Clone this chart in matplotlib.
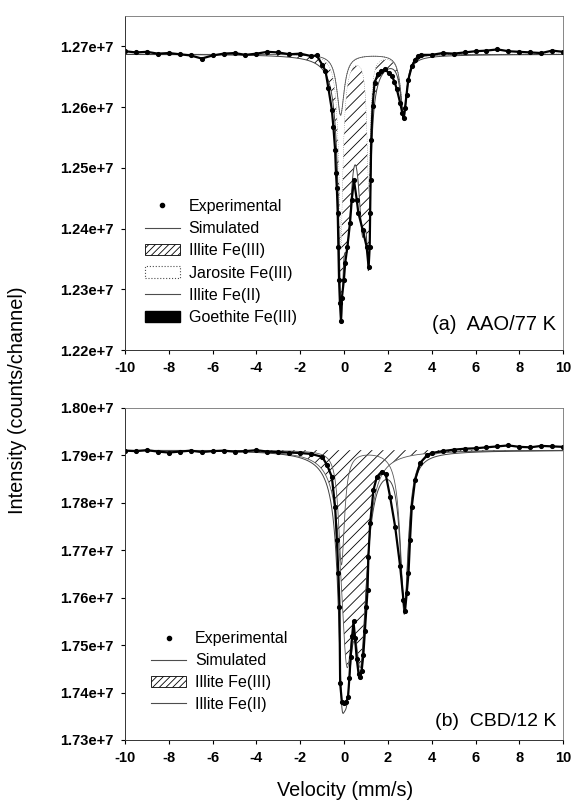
import matplotlib
matplotlib.use('Agg')
import numpy as np
import matplotlib.pyplot as plt
from matplotlib.patches import Patch
from matplotlib.lines import Line2D

plt.rcParams['font.family'] = ['Liberation Sans', 'DejaVu Sans']
plt.rcParams['hatch.linewidth'] = 0.6

# (a) AAO / 77 K  -- experimental points (velocity mm/s, intensity in 1e7 counts)
vel_a = [-10, -9.5, -9, -8.5, -8, -7.5, -7, -6.5, -6, -5.5, -5, -4.5, -4, -3.5, -3, -2.5, -2, -1.5,
         -1.25, -1.0, -0.85, -0.72, -0.56, -0.49, -0.41, -0.37, -0.33, -0.29, -0.26, -0.23, -0.19, -0.14,
         -0.10, -0.01, 0.05, 0.15, 0.27, 0.35, 0.45,
         0.58, 0.65, 0.85, 1.03, 1.12,
         1.17, 1.19, 1.21, 1.24, 1.30, 1.39,
         1.55, 1.70, 1.87, 2.05, 2.18, 2.30, 2.41, 2.56, 2.66, 2.72,
         2.78, 2.85, 2.93, 3.09, 3.24, 3.39, 3.5,
         4, 4.5, 5, 5.5, 6, 6.5, 7, 7.5, 8, 8.5, 9, 9.5, 10]
int_a = [1.2692, 1.2690, 1.2691, 1.2688, 1.2689, 1.2687, 1.2685, 1.2680, 1.2685, 1.2688, 1.2689, 1.2686,
         1.2688, 1.2691, 1.2690, 1.2687, 1.2688, 1.2684,
         1.2685, 1.2670, 1.2660, 1.2632, 1.2596, 1.2568, 1.2530, 1.2492, 1.2466, 1.2426, 1.2370, 1.2316,
         1.2278, 1.2247,
         1.2286, 1.2315, 1.2343, 1.2370, 1.2409, 1.2447, 1.2480,
         1.2447, 1.2426, 1.2398, 1.2370, 1.2336,
         1.2370, 1.2426, 1.2480, 1.2546, 1.2601, 1.2640,
         1.2655, 1.2659, 1.2662, 1.2656, 1.2651, 1.2642, 1.2629, 1.2607, 1.2590, 1.2582,
         1.2598, 1.2620, 1.2645, 1.2667, 1.2678, 1.2684, 1.2686,
         1.2686, 1.2689, 1.2688, 1.2690, 1.2692, 1.2693, 1.2695, 1.2692, 1.2691, 1.2690, 1.2689, 1.2693, 1.2691]

# fitted sites: line positions (mm/s), line depths (1e4 counts), half widths (mm/s)
base_a = 1.2687e7
fe2_a_pos, fe2_a_depth, fe2_a_hw = [-0.16, 2.72], [10, 10], [0.20, 0.17]
jar_a_pos, jar_a_depth, jar_a_hw = [-0.14, 1.12], [22.3, 22.3], [0.10, 0.10]
fe3_a_pos, fe3_a_depth, fe3_a_hw = [0.15, 0.85], [24, 24], [0.25, 0.25]

# (b) CBD / 12 K
vel_b = [-10, -9.5, -9, -8.5, -8, -7.5, -7, -6.5, -6, -5.5, -5, -4.5, -4, -3.5, -3, -2.5, -2, -1.5,
         -1.0, -0.78, -0.56, -0.41, -0.33, -0.26, -0.21, -0.18,
         -0.1, 0.0, 0.1, 0.18, 0.24, 0.3, 0.37, 0.43, 0.5, 0.58, 0.66, 0.73, 0.8, 0.88, 0.95, 1.02, 1.07,
         1.11, 1.19, 1.34, 1.5, 1.72, 1.9, 2.1, 2.33, 2.56, 2.71, 2.78,
         2.86, 2.94, 3.01, 3.09, 3.24, 3.47, 3.78, 4,
         4.5, 5, 5.5, 6, 6.5, 7, 7.5, 8, 8.5, 9, 9.5, 10]
int_b = [1.7910, 1.7909, 1.7911, 1.7908, 1.7906, 1.7908, 1.7910, 1.7907, 1.7909, 1.7910, 1.7908, 1.7909,
         1.7911, 1.7908, 1.7907, 1.7906, 1.7905, 1.7903,
         1.7897, 1.7880, 1.7855, 1.7792, 1.7722, 1.7651, 1.7581, 1.7420,
         1.7380, 1.7378, 1.7380, 1.7390, 1.7430, 1.7475, 1.7520, 1.7550, 1.7515, 1.7470, 1.7440, 1.7433,
         1.7445, 1.7480, 1.7530, 1.7580, 1.7616,
         1.7686, 1.7757, 1.7827, 1.7855, 1.7866, 1.7860, 1.7813, 1.7750, 1.7666, 1.7595, 1.7571,
         1.7610, 1.7651, 1.7722, 1.7792, 1.7848, 1.7884, 1.7900, 1.7905,
         1.7909, 1.7912, 1.7914, 1.7915, 1.7917, 1.7919, 1.7921, 1.7918, 1.7917, 1.7920, 1.7919, 1.7918]

base_b = 1.7911e7
fe2_b_pos, fe2_b_depth, fe2_b_hw = [-0.12, 2.75], [24, 33], [0.17, 0.22]
fe3_b_pos, fe3_b_depth, fe3_b_hw = [0.12, 0.76], [38, 38], [0.32, 0.32]

xticks = np.arange(-10, 11, 2)
yticks_a = [1.22e7, 1.23e7, 1.24e7, 1.25e7, 1.26e7, 1.27e7]
yticks_b = [1.73e7, 1.74e7, 1.75e7, 1.76e7, 1.77e7, 1.78e7, 1.79e7, 1.80e7]


def doublet(v, pos, depth, hw):
    out = np.zeros_like(v)
    for c, d, w in zip(pos, depth, hw):
        out += d * 1e4 / (1 + ((v - c) / w) ** 2)
    return out


def style_axis(ax, ylim, yticks):
    ax.set_xlim(-10, 10)
    ax.set_ylim(*ylim)
    ax.set_xticks(xticks)
    ax.set_yticks(yticks)
    ax.set_xticklabels([str(t) for t in xticks])
    ax.set_yticklabels(['{:.2f}e+7'.format(t / 1e7) for t in yticks])
    for side, s in ax.spines.items():
        if side in ('top', 'right'):
            s.set_linewidth(0.6)
            s.set_color('0.45')
        else:
            s.set_linewidth(0.7)
            s.set_color('0.2')
    ax.tick_params(direction='out', length=3, width=0.8, top=False, right=False,
                   labelsize=10.5, pad=5)
    for lab in ax.get_xticklabels() + ax.get_yticklabels():
        lab.set_fontweight('bold')


v = np.linspace(-10, 10, 4001)
fig = plt.figure(figsize=(5.75, 8.08), dpi=100)

# ---- panel (a)
ax1 = fig.add_axes([0.2174, 0.5668, 0.762, 0.4134])
fe2 = doublet(v, fe2_a_pos, fe2_a_depth, fe2_a_hw)
jar = doublet(v, jar_a_pos, jar_a_depth, jar_a_hw)
fe3 = doublet(v, fe3_a_pos, fe3_a_depth, fe3_a_hw)
upper = base_a - fe2 - jar
ax1.fill_between(v, base_a - fe2, upper, facecolor='white', edgecolor='0.35', linestyle=':', lw=0.6)
ax1.fill_between(v, upper, upper - fe3, facecolor='white', edgecolor='black', hatch='///', lw=0)
ax1.plot(v, base_a - fe2, color='0.35', lw=0.6)
ax1.plot(v, upper - fe3, color='0.25', lw=0.7)
ax1.plot(vel_a, np.array(int_a) * 1e7, 'o-', color='black', ms=2.7, lw=1.6)
style_axis(ax1, (1.22e7, 1.275e7), yticks_a)

h_a = [Line2D([], [], marker='o', ms=3, ls='none', color='black'),
       Line2D([], [], color='0.3', lw=0.8),
       Patch(facecolor='white', edgecolor='black', hatch='/////', lw=0.6),
       Patch(facecolor='white', edgecolor='0.3', linestyle=':', lw=0.8),
       Line2D([], [], color='0.3', lw=0.8),
       Patch(facecolor='black', edgecolor='black')]
l_a = ['Experimental', 'Simulated', 'Illite Fe(III)', 'Jarosite Fe(III)', 'Illite Fe(II)', 'Goethite Fe(III)']
ax1.legend(h_a, l_a, loc='upper left', bbox_to_anchor=(0.045, 0.452), frameon=False, fontsize=11.5,
           handlelength=2.2, handletextpad=0.55, labelspacing=0.45, borderpad=0, borderaxespad=0)
ax1.text(0.984, 0.077, '(a)  AAO/77 K', transform=ax1.transAxes, ha='right', va='center', fontsize=14.5)

# ---- panel (b)
ax2 = fig.add_axes([0.2174, 0.0842, 0.762, 0.4109])
fe2 = doublet(v, fe2_b_pos, fe2_b_depth, fe2_b_hw)
fe3 = doublet(v, fe3_b_pos, fe3_b_depth, fe3_b_hw)
ax2.fill_between(v, base_b, base_b - fe3, facecolor='white', edgecolor='black', hatch='///', lw=0)
ax2.plot(v, base_b - fe3, color='0.35', lw=0.6)
ax2.plot(v, base_b - fe2, color='0.35', lw=0.6)
ax2.plot(v, base_b - fe2 - fe3, color='0.25', lw=0.7)
ax2.plot(vel_b, np.array(int_b) * 1e7, 'o-', color='black', ms=2.7, lw=1.6)
style_axis(ax2, (1.73e7, 1.80e7), yticks_b)

h_b = [h_a[0], h_a[1], h_a[2], h_a[4]]
l_b = ['Experimental', 'Simulated', 'Illite Fe(III)', 'Illite Fe(II)']
ax2.legend(h_b, l_b, loc='upper left', bbox_to_anchor=(0.06, 0.327), frameon=False, fontsize=11.5,
           handlelength=2.2, handletextpad=0.55, labelspacing=0.42, borderpad=0, borderaxespad=0)
ax2.text(0.984, 0.055, '(b)  CBD/12 K', transform=ax2.transAxes, ha='right', va='center', fontsize=14)

fig.text(0.03, 0.505, 'Intensity (counts/channel)', rotation=90, ha='center', va='center', fontsize=14.3)
fig.text(0.6, 0.022, 'Velocity (mm/s)', ha='center', va='center', fontsize=14.3)

fig.savefig('out.png', dpi=100)
